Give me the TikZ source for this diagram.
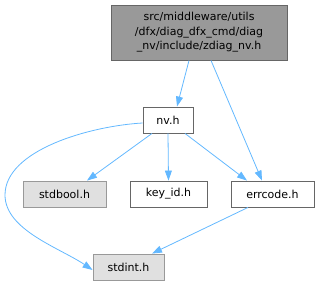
\documentclass[tikz,border=0pt]{standalone}
\usepackage{fontspec}
\setmainfont{DejaVu Sans}
\usetikzlibrary{arrows.meta}
\definecolor{edgec}{HTML}{63B8FF}
\definecolor{topfill}{HTML}{999999}
\definecolor{darkb}{HTML}{666666}
\definecolor{lightfill}{HTML}{E0E0E0}
\definecolor{lightb}{HTML}{999999}
\tikzset{
  box/.style={draw=darkb, fill=white, line width=0.9pt, inner sep=0pt, minimum height=26pt, font=\fontsize{11}{14.5}\selectfont},
  graybox/.style={box, draw=lightb, fill=lightfill},
  topbox/.style={box, fill=topfill, align=center, minimum width=176pt, minimum height=55pt},
  edge/.style={draw=edgec, line width=0.8pt, -{Triangle[length=10pt,width=7pt]}}
}
\begin{document}
\begin{tikzpicture}[x=1pt,y=1pt]
\useasboundingbox (0,0) rectangle (319,285);
\node[topbox] (top) at (199,252.5) {src/middleware/utils\\/dfx/diag\_dfx\_cmd/diag\\\_nv/include/zdiag\_nv.h};
\node[box, minimum width=50pt] (nv) at (168,165) {nv.h};
\node[graybox, minimum width=83pt] (stdbool) at (64.5,91) {stdbool.h};
\node[box, minimum width=77pt] (keyid) at (168.5,91) {key\_id.h};
\node[box, minimum width=83pt] (errcode) at (272.5,91) {errcode.h};
\node[graybox, minimum width=71pt] (stdint) at (128.5,18) {stdint.h};
\draw[edge] ([xshift=-10pt]top.south) -- ([xshift=9pt]nv.north);
\draw[edge] ([xshift=12pt]top.south) -- ([xshift=-10.5pt]errcode.north);
\draw[edge] ([xshift=-16pt]nv.south) -- ([xshift=22.5pt]stdbool.north);
\draw[edge] (nv.south) -- (keyid.north);
\draw[edge] ([xshift=17pt]nv.south) -- ([xshift=-25.5pt]errcode.north);
\draw[edge] ([xshift=-24.5pt]errcode.south) -- ([xshift=23.5pt]stdint.north);
\draw[edge] ([yshift=-3pt]nv.west) .. controls (90,159) and (5,135) .. (5,90) .. controls (5,55) and (60,37) .. ([yshift=-3pt]stdint.west);
\end{tikzpicture}
\end{document}
